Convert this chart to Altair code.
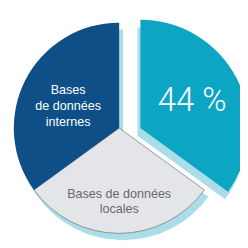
import altair as alt
import pandas as pd

segments = ["44 %", "Bases de données locales", "Bases de données internes"]
values = [35, 30, 35]
labels = ["44 %", "Bases de données\nlocales", "Bases\nde données\ninternes"]
colors = ["#0ca5c3", "#e4e5e9", "#0d4f86"]
order_idx = [0, 1, 2]

df = pd.DataFrame({"seg": segments, "value": values, "label": labels, "idx": order_idx})

SHADOW = "#a9dde7"
CX, CY, R = 115, 120, 109
TX, TY, TR = 137, 120, 112

is_teal = alt.datum.seg == segments[0]
is_local = alt.datum.seg == segments[1]
is_internal = alt.datum.seg == segments[2]

base = alt.Chart(df).encode(
    theta=alt.Theta("value:Q", stack=True),
    order=alt.Order("idx:Q"),
)

color_enc = alt.Color("seg:N", scale=alt.Scale(domain=segments, range=colors), legend=None)

main_shadow = base.mark_arc(radius=R, color=SHADOW).encode(
    x=alt.value(CX + 4), y=alt.value(CY + 7),
    opacity=alt.condition(is_teal, alt.value(0), alt.value(1)),
)
teal_shadow = base.mark_arc(radius=TR, color=SHADOW).encode(
    x=alt.value(TX - 3), y=alt.value(TY + 8),
    opacity=alt.condition(is_teal, alt.value(1), alt.value(0)),
)
main_pie = base.mark_arc(radius=R, stroke="#7d7d7d", strokeWidth=0.8).encode(
    x=alt.value(CX), y=alt.value(CY),
    color=color_enc,
    opacity=alt.condition(is_teal, alt.value(0), alt.value(1)),
    strokeOpacity=alt.condition(is_local, alt.value(1), alt.value(0)),
)
teal_pie = base.mark_arc(radius=TR).encode(
    x=alt.value(TX), y=alt.value(TY),
    color=color_enc,
    opacity=alt.condition(is_teal, alt.value(1), alt.value(0)),
)

internal_label = base.mark_text(
    radius=57, dx=-2, dy=-13, font="Liberation Sans", fontSize=13, lineHeight=16.5,
    color="white", lineBreak="\n", align="center", baseline="middle",
).encode(
    x=alt.value(CX), y=alt.value(CY), text="label:N",
    opacity=alt.condition(is_internal, alt.value(1), alt.value(0)),
)
local_label = base.mark_text(
    radius=72, dy=-4, font="Liberation Sans", fontSize=13, lineHeight=16,
    color="#6a6a6a", lineBreak="\n", align="center", baseline="middle",
).encode(
    x=alt.value(CX), y=alt.value(CY), text="label:N",
    opacity=alt.condition(is_local, alt.value(1), alt.value(0)),
)
teal_label = base.mark_text(
    radius=60, font="Roboto", fontWeight=300, fontSize=34,
    color="white", align="center", baseline="middle",
).encode(
    x=alt.value(TX), y=alt.value(TY), text="label:N",
    opacity=alt.condition(is_teal, alt.value(1), alt.value(0)),
)

chart = alt.layer(
    main_shadow, teal_shadow, main_pie, teal_pie, internal_label, local_label, teal_label
).properties(
    width=240, height=240, autosize=alt.AutoSizeParams(type="none"), padding=0, background="white"
).configure_view(stroke=None)

chart.save("out.html", embed_options={"renderer": "svg", "actions": False})
